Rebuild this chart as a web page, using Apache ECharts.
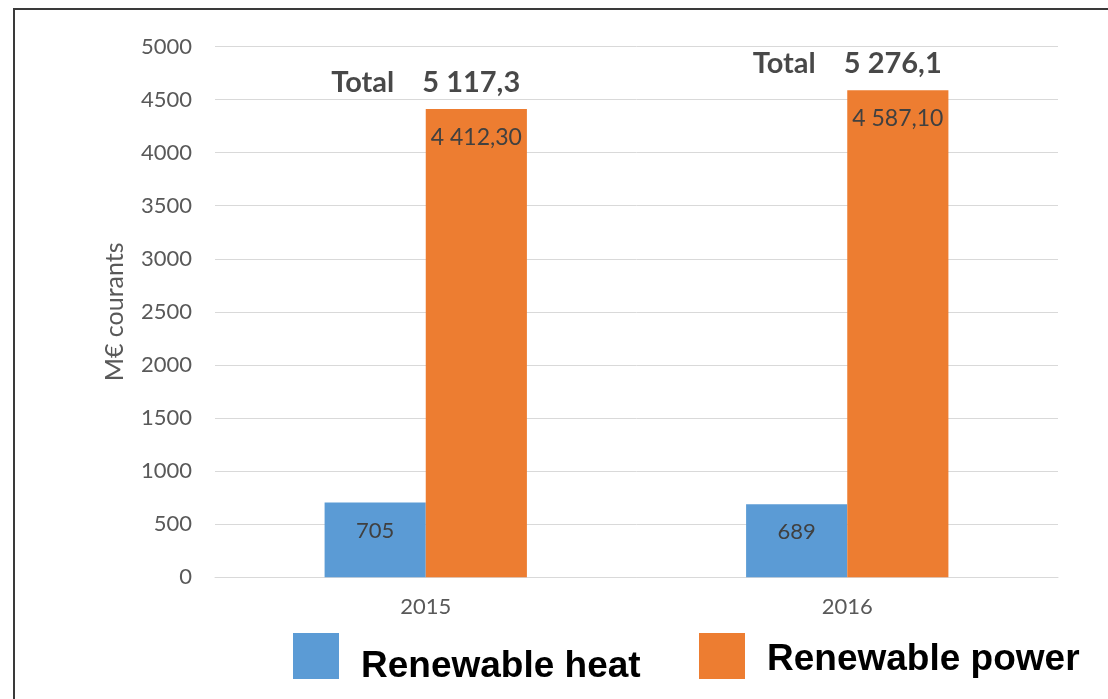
<!DOCTYPE html>
<html>
<head>
<meta charset="utf-8">
<title>Renewable heat and power</title>
<script src="https://cdn.jsdelivr.net/npm/echarts@6/dist/echarts.min.js"></script>
<style>
  html, body { margin: 0; padding: 0; background: #ffffff; }
  #chart { width: 1108px; height: 699px; }
</style>
</head>
<body>
<div id="chart"></div>
<script>
// Years on the category axis
const years = ['2015', '2016'];
// Spending in current M€
const heat = [705, 689];
const power = [4412.3, 4587.1];
// Value axis ticks
const yTicks = { min: 0, max: 5000, step: 500 };
const yAxisTitle = 'M€ courants';
const seriesNames = ['Renewable heat', 'Renewable power'];

const totals = heat.map((h, i) => Math.round((h + power[i]) * 10) / 10);

// French style number: space as thousands separator, comma as decimal mark
function frNumber(v, decimals) {
  const parts = v.toFixed(decimals).split('.');
  const intPart = parts[0].replace(/\B(?=(\d{3})+(?!\d))/g, ' ');
  return parts.length > 1 ? intPart + ',' + parts[1] : intPart;
}

const FONT = 'Lato, "Open Sans", sans-serif';
const TICK_COLOR = '#595959';
const GRID_COLOR = '#d9d9d9';
const BLUE = '#5b9bd5';
const ORANGE = '#ed7d31';

const chart = echarts.init(document.getElementById('chart'), null, { renderer: 'canvas' });

const legendFont = {
  fontFamily: '"Liberation Sans", Arial, sans-serif',
  fontWeight: 'bold',
  fontSize: 37,
  color: '#000000'
};

// One legend block per series so each entry sits at its own place
function legendBlock(name, left, topPad) {
  return {
    data: [name],
    left: left, top: 633, padding: 0,
    itemWidth: 46, itemHeight: 46,
    icon: 'rect',
    formatter: '{n|{name}}',
    textStyle: {
      rich: { n: Object.assign({ padding: [topPad, 0, 0, 17] }, legendFont) }
    }
  };
}

chart.setOption({
  animation: false,
  backgroundColor: '#ffffff',
  grid: { left: 215, right: 50, top: 46.5, bottom: 121.7, containLabel: false },
  legend: [
    legendBlock(seriesNames[0], 293, 22),
    legendBlock(seriesNames[1], 699, 8)
  ],
  xAxis: {
    type: 'category',
    data: years,
    axisLine: { show: true, lineStyle: { color: GRID_COLOR, width: 1 } },
    axisTick: { show: false },
    axisLabel: { color: TICK_COLOR, fontFamily: FONT, fontSize: 22, margin: 19 }
  },
  yAxis: {
    type: 'value',
    min: yTicks.min, max: yTicks.max, interval: yTicks.step,
    name: yAxisTitle,
    nameLocation: 'middle',
    nameGap: 88,
    nameTextStyle: { color: TICK_COLOR, fontFamily: FONT, fontSize: 25 },
    axisLine: { show: false },
    axisTick: { show: false },
    axisLabel: {
      color: TICK_COLOR, fontFamily: FONT, fontSize: 22, margin: 23,
      formatter: v => String(v)
    },
    splitLine: { lineStyle: { color: GRID_COLOR, width: 1 } }
  },
  series: [
    {
      name: seriesNames[0],
      type: 'bar',
      data: heat,
      barGap: '0%',
      barCategoryGap: '52%',
      itemStyle: { color: BLUE },
      label: {
        show: true, position: 'insideTop', distance: 17,
        color: '#404040', fontFamily: FONT, fontSize: 22,
        formatter: p => frNumber(p.value, 0)
      }
    },
    {
      name: seriesNames[1],
      type: 'bar',
      data: power,
      itemStyle: { color: ORANGE },
      label: {
        show: true, position: 'insideTop', distance: 17,
        color: '#404040', fontFamily: FONT, fontSize: 23,
        formatter: p => frNumber(p.value, 2)
      }
    },
    {
      // Totals written above each year's group, anchored on the taller bar
      name: 'Total',
      type: 'scatter',
      data: power,
      symbolSize: 0,
      silent: true,
      z: 5,
      label: {
        show: true, position: 'top', distance: 12,
        formatter: p => '{t|Total}{v|' + frNumber(totals[p.dataIndex], 1) + '}',
        rich: {
          t: { fontFamily: FONT, fontWeight: 'bold', fontSize: 29, color: '#1a1a1a', padding: [0, 28, 0, 0] },
          v: { fontFamily: FONT, fontWeight: 'bold', fontSize: 29, color: '#1a1a1a' }
        }
      }
    }
  ],
  graphic: [
    { type: 'line', shape: { x1: 14, y1: 9, x2: 14, y2: 699 }, style: { stroke: '#3a3a3a', lineWidth: 2 }, silent: true },
    { type: 'line', shape: { x1: 13, y1: 9, x2: 1108, y2: 9 }, style: { stroke: '#3a3a3a', lineWidth: 2 }, silent: true }
  ]
});
</script>
</body>
</html>
